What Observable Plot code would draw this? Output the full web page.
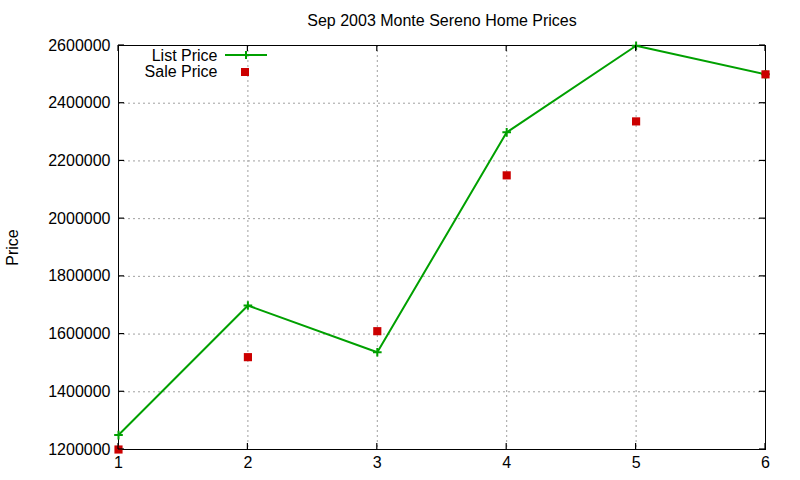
<!DOCTYPE html>
<html>
<head>
<meta charset="utf-8">
<script src="https://cdn.jsdelivr.net/npm/d3@7"></script>
<script src="https://cdn.jsdelivr.net/npm/@observablehq/plot@0.6"></script>
<style>
  html, body { margin: 0; padding: 0; background: #fff; }
  #chart svg { display: block; }
</style>
</head>
<body>
<div id="chart"></div>
<script>
const title = "Sep 2003 Monte Sereno Home Prices";
const yLabel = "Price";
const xValues = [1, 2, 3, 4, 5, 6];
const listPrice = [1250000, 1699000, 1537000, 2299000, 2599000, 2500000];
const salePrice = [1200000, 1520000, 1610000, 2150000, 2337000, 2500000];
const xTicks = [1, 2, 3, 4, 5, 6];
const yTicks = [1200000, 1400000, 1600000, 1800000, 2000000, 2200000, 2400000, 2600000];
const seriesNames = ["List Price", "Sale Price"];

const green = "#00a000";
const red = "#cc0000";

const listData = xValues.map((x, i) => ({x, y: listPrice[i]}));
const saleData = xValues.map((x, i) => ({x, y: salePrice[i]}));

const font = "Liberation Sans, Arial, sans-serif";

const chart = Plot.plot({
  width: 800,
  height: 480,
  marginLeft: 118,
  marginRight: 35,
  marginTop: 45,
  marginBottom: 31,
  style: {fontFamily: font, fontSize: "16px", background: "#fff", color: "#000"},
  x: {domain: [1, 6]},
  y: {domain: [1200000, 2600000]},
  marks: [
    Plot.gridX(xTicks, {stroke: "#a0a0a0", strokeOpacity: 1, strokeDasharray: "2,3"}),
    Plot.gridY(yTicks, {stroke: "#a0a0a0", strokeOpacity: 1, strokeDasharray: "2,3"}),
    Plot.axisY(yTicks, {tickSize: 0, tickPadding: 8, tickFormat: d => String(d), label: yLabel, labelAnchor: "center", labelArrow: "none", labelOffset: 112, fontSize: 16}),
    Plot.axisX(xTicks, {tickSize: 0, tickPadding: 7, tickFormat: d => String(d), label: null, fontSize: 16}),
    Plot.frame({stroke: "#000", strokeWidth: 1}),
    Plot.line(listData, {x: "x", y: "y", stroke: green, strokeWidth: 2}),
    Plot.dot(listData, {x: "x", y: "y", symbol: "plus", stroke: green, strokeWidth: 2, r: 2.9}),
    Plot.dot(saleData, {x: "x", y: "y", symbol: "square", fill: red, stroke: "none", r: 4.6}),
    Plot.text([title], {frameAnchor: "top", dy: -25, lineAnchor: "middle", fontSize: 16, fill: "#000"}),
    Plot.text([seriesNames[0]], {frameAnchor: "top-left", dx: 99, dy: 10, lineAnchor: "middle", textAnchor: "end", fontSize: 16, fill: "#000"}),
    Plot.text([seriesNames[1]], {frameAnchor: "top-left", dx: 99, dy: 26, lineAnchor: "middle", textAnchor: "end", fontSize: 16, fill: "#000"})
  ]
});

// inward, mirrored ticks (gnuplot style), positioned with the plot's own scales
const sx = chart.scale("x"), sy = chart.scale("y");
const svg = d3.select(chart);
const xLeft = sx.apply(xTicks[0]), xRight = sx.apply(xTicks[xTicks.length - 1]);
const yBottom = sy.apply(yTicks[0]), yTop = sy.apply(yTicks[yTicks.length - 1]);
const tk = svg.append("g").attr("stroke", "#000").attr("stroke-width", 1.2);
for (const t of yTicks) {
  const y = sy.apply(t);
  tk.append("line").attr("x1", xLeft).attr("x2", xLeft + 6).attr("y1", y).attr("y2", y);
  tk.append("line").attr("x1", xRight).attr("x2", xRight - 6).attr("y1", y).attr("y2", y);
}
for (const t of xTicks) {
  const x = sx.apply(t);
  tk.append("line").attr("x1", x).attr("x2", x).attr("y1", yBottom).attr("y2", yBottom - 6);
  tk.append("line").attr("x1", x).attr("x2", x).attr("y1", yTop).attr("y2", yTop + 6);
}

// legend samples next to the legend labels
const g = svg.append("g");
g.append("line").attr("x1", 225).attr("x2", 267).attr("y1", 55).attr("y2", 55)
  .attr("stroke", green).attr("stroke-width", 2);
g.append("path").attr("d", "M242,55h8M246,51v8").attr("stroke", green).attr("stroke-width", 2);
g.append("rect").attr("x", 241).attr("y", 68).attr("width", 8).attr("height", 8).attr("fill", red);

document.getElementById("chart").append(chart);
</script>
</body>
</html>
